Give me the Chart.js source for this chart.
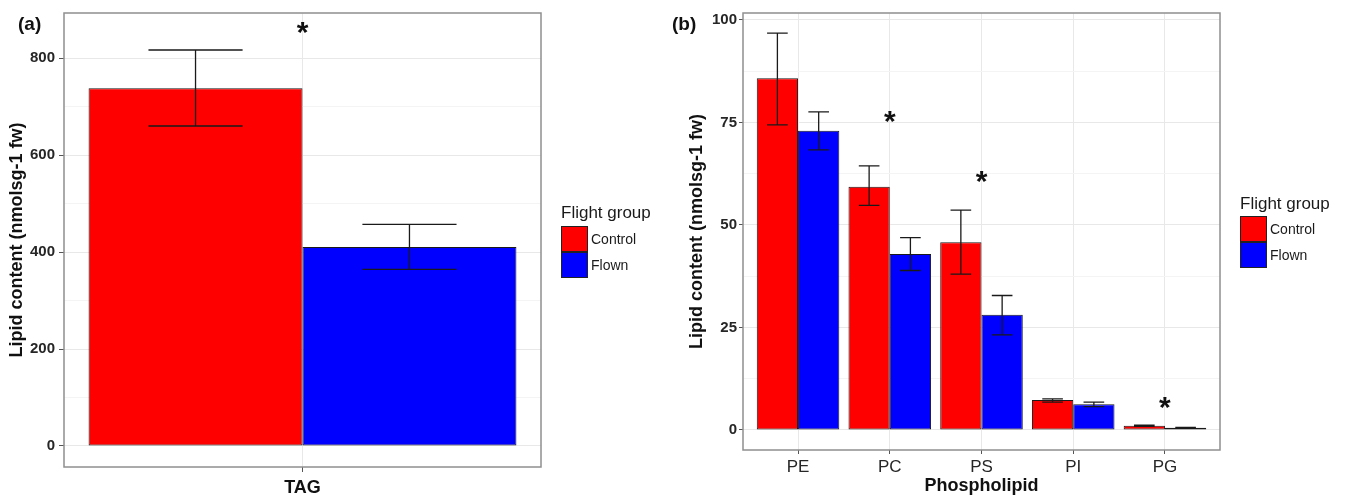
<!DOCTYPE html>
<html>
<head>
<meta charset="utf-8">
<script src="https://cdn.jsdelivr.net/npm/chart.js@4.4.1/dist/chart.umd.min.js"></script>
<style>
  html, body { margin: 0; padding: 0; background: #fff; }
  #wrap { position: relative; width: 1350px; height: 497px; }
  #panel-a { position: absolute; left: 0; top: 0; }
  #panel-b { position: absolute; left: 660px; top: 0; }
</style>
</head>
<body>
<div id="wrap">
  <canvas id="panel-a" width="660" height="497"></canvas>
  <canvas id="panel-b" width="690" height="497"></canvas>
</div>
<script>
// Lipid content, control vs flown.

const groups = ['Control', 'Flown'];
const groupColors = ['#ff0000', '#0000ff'];

// Panel (a): TAG
const catA = ['TAG'];
const controlA = [737.5];
const flownA = [410.3];
const controlLoA = [659.8];
const controlHiA = [816.5];
const flownLoA = [364.3];
const flownHiA = [457.0];
const starCatsA = ['TAG'];
const starValsA = [861];
const yTicksA = [0, 200, 400, 600, 800];

// Panel (b): phospholipids
const catB = ['PE', 'PC', 'PS', 'PI', 'PG'];
const controlB = [85.8, 59.3, 45.8, 7.3, 1.05];
const flownB = [73.0, 42.9, 28.1, 6.3, 0.56];
const controlLoB = [74.4, 54.8, 38.0, 6.8, 0.9];
const controlHiB = [96.8, 64.4, 53.6, 7.6, 1.2];
const flownLoB = [68.3, 38.9, 23.2, 5.7, 0.45];
const flownHiB = [77.6, 46.9, 32.8, 6.8, 0.65];
const starCatsB = ['PC', 'PS', 'PG'];
const starValsB = [76.4, 61.8, 6.5];
const yTicksB = [0, 25, 50, 75, 100];

const FONT = "'Liberation Sans', Arial, sans-serif";
const GRID_MAJOR = '#e8e8e8';
const GRID_MINOR = '#f4f4f4';
const TICK_COL = '#555';
const TEXT_COL = '#262626';

Chart.defaults.font.family = FONT;
Chart.defaults.color = TEXT_COL;

// majors plus the midpoints between them (ggplot minor grid)
function withMinor(majors) {
  const out = [];
  majors.forEach((v, i) => {
    out.push(v);
    if (i < majors.length - 1) out.push((v + majors[i + 1]) / 2);
  });
  return out;
}

function yScale(majors, min, max, width, tickLen, pad, titlePad) {
  return {
    min, max,
    afterBuildTicks: s => { s.ticks = withMinor(majors).map(v => ({ value: v })); },
    afterFit: s => { s.width = width; },
    border: { display: false },
    grid: {
      color: c => majors.includes(c.tick.value) ? GRID_MAJOR : GRID_MINOR,
      tickColor: c => majors.includes(c.tick.value) ? TICK_COL : 'rgba(0,0,0,0)',
      tickLength: tickLen,
      lineWidth: 1,
    },
    ticks: {
      autoSkip: false,
      padding: pad,
      color: TEXT_COL,
      font: { size: 15, weight: 'bold' },
      callback: v => majors.includes(v) ? String(v) : '',
    },
    title: {
      display: true,
      text: 'Lipid content (nmolsg-1 fw)',
      color: '#111',
      font: { size: 18, weight: 'bold' },
      padding: { top: titlePad, bottom: 0 },
    },
  };
}

function makeErrorBars(lo, hi, cap) {
  return {
    id: 'errorBars',
    afterDatasetsDraw(chart) {
      const { ctx } = chart;
      const y = chart.scales.y;
      ctx.save();
      ctx.strokeStyle = '#1a1a1a';
      ctx.lineWidth = 1.3;
      chart.data.datasets.forEach((ds, i) => {
        chart.getDatasetMeta(i).data.forEach((bar, j) => {
          const half = bar.width * cap / 2;
          const yl = y.getPixelForValue(lo[i][j]);
          const yh = y.getPixelForValue(hi[i][j]);
          ctx.beginPath();
          ctx.moveTo(bar.x, yl); ctx.lineTo(bar.x, yh);
          ctx.moveTo(bar.x - half, yl); ctx.lineTo(bar.x + half, yl);
          ctx.moveTo(bar.x - half, yh); ctx.lineTo(bar.x + half, yh);
          ctx.stroke();
        });
      });
      ctx.restore();
    },
  };
}

// significance stars, placed at a category and a y value
function makeStars(cats, allCats, vals) {
  return {
    id: 'stars',
    afterDatasetsDraw(chart) {
      const { ctx, scales: { x, y } } = chart;
      ctx.save();
      ctx.fillStyle = '#111';
      ctx.font = 'bold 30px ' + FONT;
      ctx.textAlign = 'center';
      ctx.textBaseline = 'alphabetic';
      cats.forEach((c, k) => {
        const px = x.getPixelForTick(allCats.indexOf(c));
        ctx.fillText('*', px, y.getPixelForValue(vals[k]) + 14);
      });
      ctx.restore();
    },
  };
}

// panel box, legend and panel tag
function makeDecor(tag, tagX, tagY, legX, legTitleY, keyTop) {
  return {
    id: 'decor',
    afterDraw(chart) {
      const { ctx, chartArea: a } = chart;
      ctx.save();
      ctx.strokeStyle = '#8f8f8f';
      ctx.lineWidth = 1.5;
      ctx.strokeRect(a.left, a.top, a.right - a.left, a.bottom - a.top);

      ctx.fillStyle = '#111';
      ctx.font = 'bold 19px ' + FONT;
      ctx.textBaseline = 'alphabetic';
      ctx.fillText(tag, tagX, tagY);

      ctx.font = '17px ' + FONT;
      ctx.fillStyle = '#1a1a1a';
      ctx.fillText('Flight group', legX, legTitleY);
      const kw = 27, kh = 26;
      groups.forEach((g, i) => {
        const top = keyTop + i * kh;
        ctx.fillStyle = groupColors[i];
        ctx.fillRect(legX, top, kw, kh);
        ctx.strokeStyle = '#222';
        ctx.lineWidth = 1;
        ctx.strokeRect(legX + 0.5, top + 0.5, kw - 1, kh - 1);
        ctx.fillStyle = '#1a1a1a';
        ctx.font = '14px ' + FONT;
        ctx.textBaseline = 'middle';
        ctx.fillText(g, legX + kw + 3, top + kh / 2 + 1);
        ctx.textBaseline = 'alphabetic';
      });
      ctx.restore();
    },
  };
}

function barSet(i, data, catPct) {
  return {
    label: groups[i],
    data,
    backgroundColor: groupColors[i],
    borderColor: '#1a1a1a',
    borderWidth: 1,
    borderSkipped: false,
    categoryPercentage: catPct,
    barPercentage: 1,
  };
}

new Chart(document.getElementById('panel-a'), {
  type: 'bar',
  data: {
    labels: catA,
    datasets: [barSet(0, controlA, 0.897), barSet(1, flownA, 0.897)],
  },
  options: {
    responsive: false,
    animation: false,
    layout: { padding: { left: 0, top: 13, right: 119, bottom: 0 } },
    plugins: { legend: { display: false }, tooltip: { enabled: false } },
    scales: {
      x: {
        type: 'category',
        offset: true,
        afterFit: s => { s.height = 30; },
        border: { display: false },
        grid: { offset: false, color: GRID_MAJOR, tickColor: TICK_COL, tickLength: 5 },
        ticks: { padding: 5, color: '#111', font: { size: 18, weight: 'bold' } },
      },
      y: yScale(yTicksA, -43.3, 892.8, 64, 5, 4, 6),
    },
  },
  plugins: [
    makeErrorBars([controlLoA, flownLoA], [controlHiA, flownHiA], 0.44),
    makeStars(starCatsA, catA, starValsA),
    makeDecor('(a)', 18, 30, 561, 218, 226),
  ],
});

new Chart(document.getElementById('panel-b'), {
  type: 'bar',
  data: {
    datasets: [
      barSet(0, controlB.map((v, i) => ({ x: i + 1, y: v })), 0.9),
      barSet(1, flownB.map((v, i) => ({ x: i + 1, y: v })), 0.9),
    ],
  },
  options: {
    responsive: false,
    animation: false,
    layout: { padding: { left: 0, top: 13, right: 130, bottom: 0 } },
    plugins: { legend: { display: false }, tooltip: { enabled: false } },
    scales: {
      x: {
        type: 'linear',
        min: 0.4,
        max: 5.6,
        offset: false,
        afterBuildTicks: s => { s.ticks = catB.map((_, i) => ({ value: i + 1 })); },
        afterFit: s => { s.height = 47; },
        border: { display: false },
        grid: { offset: false, color: GRID_MAJOR, tickColor: TICK_COL, tickLength: 4 },
        ticks: {
          autoSkip: false,
          maxRotation: 0,
          padding: 3,
          color: '#262626',
          font: { size: 17 },
          callback: v => catB[v - 1] ?? '',
        },
        title: {
          display: true,
          text: 'Phospholipid',
          color: '#111',
          font: { size: 18, weight: 'bold' },
          padding: { top: 0, bottom: 0 },
        },
      },
      y: yScale(yTicksB, -4.88, 101.7, 83, 4, 2, 26),
    },
  },
  plugins: [
    makeErrorBars([controlLoB, flownLoB], [controlHiB, flownHiB], 0.5),
    makeStars(starCatsB, catB, starValsB),
    makeDecor('(b)', 12, 30, 580, 209, 216),
  ],
});
</script>
</body>
</html>
